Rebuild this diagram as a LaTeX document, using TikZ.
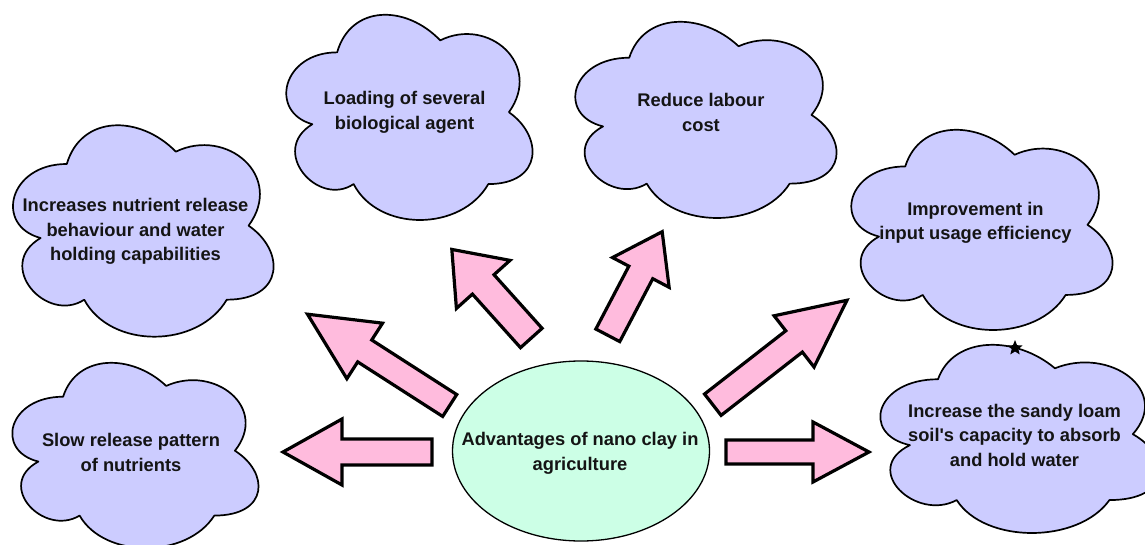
\documentclass[tikz,border=0pt]{standalone}
\usepackage{fontspec}
\setmainfont{Liberation Sans}
\usetikzlibrary{shapes.geometric}

\definecolor{cloudfill}{RGB}{204,204,255}
\definecolor{hubfill}{RGB}{204,255,230}
\definecolor{arrowfill}{RGB}{255,187,221}

% Cloud outline fitted to the box (left, top, right, bottom) of its drawn extent
\newcommand\cloudbox[4]{%
  \pgfmathsetmacro\cldW{(#3-#1)/0.895}%
  \pgfmathsetmacro\cldH{(#4-#2)/0.856}%
  \pgfmathsetmacro\cldX{#1-0.064*\cldW}%
  \pgfmathsetmacro\cldY{#2-0.094*\cldH}%
  \begin{scope}[shift={(\cldX,\cldY)}, xscale=\cldW, yscale=\cldH]
    \draw[cloudline] (0.25,0.25)
      .. controls (0.05,0.25) and (0,0.5) .. (0.16,0.55)
      .. controls (0,0.66) and (0.18,0.9) .. (0.31,0.8)
      .. controls (0.4,1) and (0.7,1) .. (0.8,0.8)
      .. controls (1,0.8) and (1,0.6) .. (0.875,0.5)
      .. controls (1,0.3) and (0.8,0.1) .. (0.625,0.2)
      .. controls (0.5,0.05) and (0.3,0.05) .. (0.25,0.25) -- cycle;
  \end{scope}}

% Block arrow: tail x, tail y, direction, length, head length, head half width, shaft half width
\newcommand\blockarrow[7]{%
  \begin{scope}[shift={(#1,#2)}, rotate=#3]
    \draw[pinkarrow] (0,-#7) -- (#4-#5,-#7) -- (#4-#5,-#6) -- (#4,0)
      -- (#4-#5,#6) -- (#4-#5,#7) -- (0,#7) -- cycle;
  \end{scope}}

\begin{document}
\begin{tikzpicture}[x=1pt,y=-1pt,
  cloudline/.style={draw=black, line width=1.7pt, fill=cloudfill, line join=round},
  pinkarrow/.style={draw=black, line width=3.2pt, fill=arrowfill, line join=miter},
  bubbletext/.style={font=\bfseries\fontsize{18.3}{24.5}\selectfont, align=center,
    inner sep=0pt, text=black!92},
  hubshape/.style={ellipse, draw=black, line width=1.3pt, fill=hubfill,
    minimum width=257pt, minimum height=180pt, inner sep=0pt}]

\useasboundingbox (0,0) rectangle (1145,545);
\fill[white] (0,0) rectangle (1145,545);

% clouds
\cloudbox{286}{15}{532}{220}
\cloudbox{575}{22}{836}{218}
\cloudbox{12.7}{125.5}{273}{336.7}
\cloudbox{851}{130}{1112}{330}
\cloudbox{12}{363}{258}{548}
\cloudbox{880}{345}{1159}{533}

\node[star, star points=5, star point ratio=2.3, fill=black, inner sep=0pt,
  minimum size=16pt] (mark) at (1015,348) {};

% cloud texts
\node[bubbletext] (agent)   at (404.5,112.5) {Loading of several\\biological agent};
\node[bubbletext] (labour)  at (701,112.5)   {Reduce labour\\cost};
\node[bubbletext] (release) at (135.5,231.5) {Increases nutrient release\\behaviour and water\\holding capabilities};
\node[bubbletext] (input)   at (975.5,223)   {Improvement in\\input usage efficiency};
\node[bubbletext] (slow)    at (131,452.5)   {Slow release pattern\\of nutrients};
\node[bubbletext] (soil)    at (1014.5,435)  {Increase the sandy loam\\soil\textquotesingle s capacity to absorb\\and hold water};

% arrows radiating from the centre
\blockarrow{432}{452}{180}{149}{59}{33}{13}
\blockarrow{726}{452}{0}{143}{56}{30}{12}
\blockarrow{449.7}{405.5}{147.3}{169}{68}{33}{13}
\blockarrow{531.3}{338}{131.9}{119}{47}{36}{14.5}
\blockarrow{607.8}{335.3}{62.3}{117}{46}{32}{13.5}
\blockarrow{712.8}{404.7}{37.9}{170}{67}{32.5}{13.5}

% centre
\node[hubshape] (hub) at (581,451) {};
\node[bubbletext] (hubtext) at (580,453.5) {Advantages of nano clay in\\agriculture};

\end{tikzpicture}
\end{document}
